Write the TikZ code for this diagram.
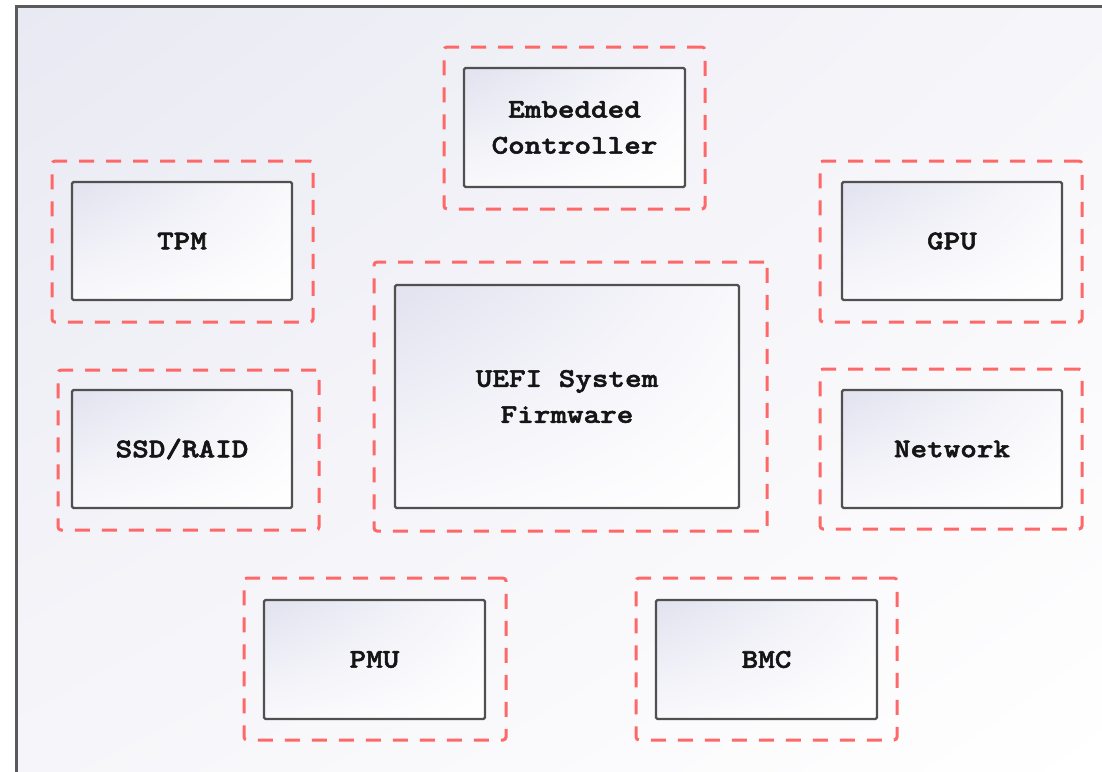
\documentclass[tikz,border=0pt]{standalone}
\usepackage{fontspec}
\usetikzlibrary{shadings}
\newfontfamily\chipfont{lmmonolt10-bold}[Extension=.otf, FakeStretch=1.17, FakeBold=2]
\definecolor{frameline}{HTML}{5A5A5A}
\definecolor{boxline}{HTML}{505050}
\definecolor{zoneline}{HTML}{FF6868}
\definecolor{bgtl}{HTML}{E9E9F3}
\definecolor{bgmid}{HTML}{F6F6FA}
\definecolor{chiptl}{HTML}{E2E2F0}
\definecolor{chipmid}{HTML}{F9F9FC}
\definecolor{ink}{HTML}{151515}
\begin{document}
\begin{tikzpicture}[x=1pt,y=-1pt,
  chip/.style={draw=boxline, line width=2.4pt, rounded corners=1.5pt,
    upper left=chiptl, upper right=chipmid, lower left=chipmid, lower right=white,
    inner sep=0pt, align=center, text=ink,
    font=\chipfont\fontsize{27}{36}\selectfont},
  zone/.style={draw=zoneline, line width=3pt, dash pattern=on 15pt off 12pt,
    rounded corners=3pt, inner sep=0pt}]
  % page and backdrop
  \useasboundingbox (0,0) rectangle (1102,771);
  \fill[white] (0,0) rectangle (1102,771);
  \shade[upper left=bgtl, upper right=bgmid, lower left=bgmid, lower right=white]
    (17,7) rectangle (1102,771);
  \draw[frameline, line width=2.5pt] (16.5,790) -- (16.5,6.5) -- (1120,6.5);

  % dashed zones
  \node[zone, minimum width=261pt, minimum height=162pt] (zec)   at (574.5,128) {};
  \node[zone, minimum width=261pt, minimum height=161pt] (ztpm)  at (182.5,241.5) {};
  \node[zone, minimum width=262pt, minimum height=161pt] (zgpu)  at (951,241.5) {};
  \node[zone, minimum width=393pt, minimum height=269pt] (zuefi) at (570.5,396.5) {};
  \node[zone, minimum width=261pt, minimum height=160pt] (zssd)  at (188.5,450) {};
  \node[zone, minimum width=262pt, minimum height=160pt] (znet)  at (951,449) {};
  \node[zone, minimum width=262pt, minimum height=162pt] (zpmu)  at (375,659) {};
  \node[zone, minimum width=261pt, minimum height=162pt] (zbmc)  at (766.5,659) {};

  % component boxes
  \node[chip, minimum width=221pt, minimum height=119pt] (ec)   at (574.5,127.5) {Embedded\\Controller};
  \node[chip, minimum width=220pt, minimum height=118pt] (tpm)  at (182,241) {TPM};
  \node[chip, minimum width=220pt, minimum height=118pt] (gpu)  at (952,241) {GPU};
  \node[chip, minimum width=344pt, minimum height=223pt] (uefi) at (567,396.5) {UEFI System\\Firmware};
  \node[chip, minimum width=220pt, minimum height=118pt] (ssd)  at (182,449) {SSD/RAID};
  \node[chip, minimum width=220pt, minimum height=118pt] (net)  at (952,449) {Network};
  \node[chip, minimum width=221pt, minimum height=119pt] (pmu)  at (374.5,659.5) {PMU};
  \node[chip, minimum width=221pt, minimum height=119pt] (bmc)  at (766.5,659.5) {BMC};
\end{tikzpicture}
\end{document}
